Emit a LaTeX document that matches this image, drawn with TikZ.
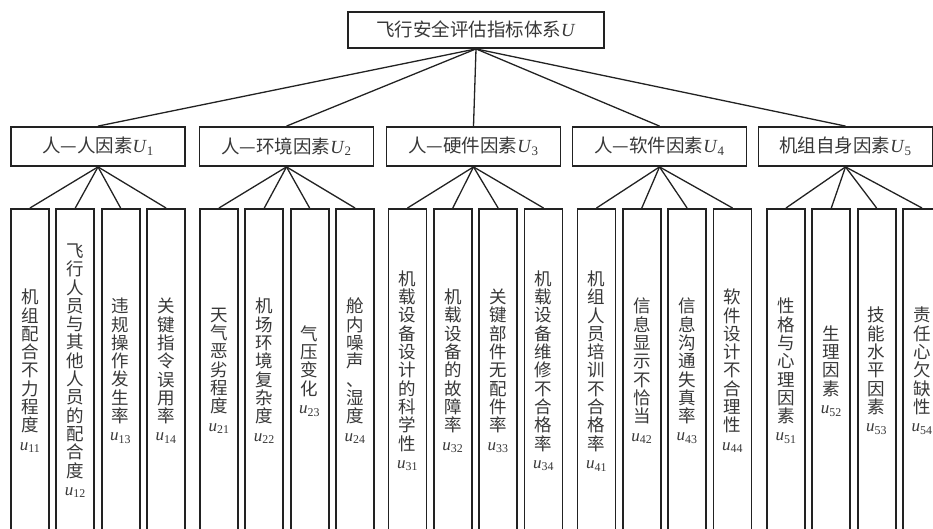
\documentclass[tikz,border=0pt]{standalone}
\usepackage{fontspec}
\newfontfamily\cjk{Noto Sans CJK SC}
\newfontfamily\lat{Liberation Serif}
\newcommand{\UU}[1]{{\lat\textit{U}\textsubscript{#1}}}
\newcommand{\uu}[1]{{\lat\fontsize{17}{17}\selectfont\textit{u}\textsubscript{#1}}}
\definecolor{lc}{HTML}{222222}
\definecolor{tc}{HTML}{383838}
\tikzset{
  box/.style={draw=lc, line width=1.8pt, fill=white, inner sep=0pt, text=tc},
  topbox/.style={box, minimum width=256, minimum height=36, font=\cjk\fontsize{18.5}{20}\selectfont},
  midbox/.style={box, minimum width=174, minimum height=39, font=\cjk\fontsize{18.5}{20}\selectfont},
  leafbox/.style={box, minimum width=38, minimum height=324, anchor=north, align=center, font=\cjk\fontsize{17.5}{18.3}\selectfont},
  link/.style={draw=lc, line width=1.3pt}
}
\begin{document}
\begin{tikzpicture}[x=1pt,y=-1pt]
\useasboundingbox (0,0) rectangle (933,529);
\clip (0,0) rectangle (933,529);
% top
\node[topbox] (top) at (476,30) {飞行安全评估指标体系\UU{}};
% level 2
\node[midbox] (m1) at (98,146.5) {人—人因素\UU{1}};
\node[midbox] (m2) at (286.5,146.5) {人—环境因素\UU{2}};
\node[midbox] (m3) at (473.5,146.5) {人—硬件因素\UU{3}};
\node[midbox] (m4) at (659.5,146.5) {人—软件因素\UU{4}};
\node[midbox] (m5) at (845.5,146.5) {机组自身因素\UU{5}};
% leaves group 1
\node[leafbox] (l11) at (30,208) {机\\组\\配\\合\\不\\力\\程\\度\\\uu{11}};
\node[leafbox] (l12) at (75.3,208) {飞\\行\\人\\员\\与\\其\\他\\人\\员\\的\\配\\合\\度\\\uu{12}};
\node[leafbox] (l13) at (120.6,208) {违\\规\\操\\作\\发\\生\\率\\\uu{13}};
\node[leafbox] (l14) at (166,208) {关\\键\\指\\令\\误\\用\\率\\\uu{14}};
% group 2
\node[leafbox] (l21) at (219,208) {天\\气\\恶\\劣\\程\\度\\\uu{21}};
\node[leafbox] (l22) at (264.3,208) {机\\场\\环\\境\\复\\杂\\度\\\uu{22}};
\node[leafbox] (l23) at (309.6,208) {气\\压\\变\\化\\\uu{23}};
\node[leafbox] (l24) at (355,208) {舱\\内\\噪\\声\\、\\湿\\度\\\uu{24}};
% group 3
\node[leafbox] (l31) at (407.5,208) {机\\载\\设\\备\\设\\计\\的\\科\\学\\性\\\uu{31}};
\node[leafbox] (l32) at (452.8,208) {机\\载\\设\\备\\的\\故\\障\\率\\\uu{32}};
\node[leafbox] (l33) at (498.1,208) {关\\键\\部\\件\\无\\配\\件\\率\\\uu{33}};
\node[leafbox] (l34) at (543.5,208) {机\\载\\设\\备\\维\\修\\不\\合\\格\\率\\\uu{34}};
% group 4
\node[leafbox] (l41) at (596.5,208) {机\\组\\人\\员\\培\\训\\不\\合\\格\\率\\\uu{41}};
\node[leafbox] (l42) at (641.8,208) {信\\息\\显\\示\\不\\恰\\当\\\uu{42}};
\node[leafbox] (l43) at (687.1,208) {信\\息\\沟\\通\\失\\真\\率\\\uu{43}};
\node[leafbox] (l44) at (732.5,208) {软\\件\\设\\计\\不\\合\\理\\性\\\uu{44}};
% group 5
\node[leafbox] (l51) at (786,208) {性\\格\\与\\心\\理\\因\\素\\\uu{51}};
\node[leafbox] (l52) at (831.3,208) {生\\理\\因\\素\\\uu{52}};
\node[leafbox] (l53) at (876.6,208) {技\\能\\水\\平\\因\\素\\\uu{53}};
\node[leafbox] (l54) at (922,208) {责\\任\\心\\欠\\缺\\性\\\uu{54}};
% connectors
\foreach \m in {1,...,5}{
  \path[link] (top.south) -- (m\m.north);
  \foreach \l in {1,...,4}{
    \path[link] (m\m.south) -- (l\m\l.north);
  }
}
\end{tikzpicture}
\end{document}
